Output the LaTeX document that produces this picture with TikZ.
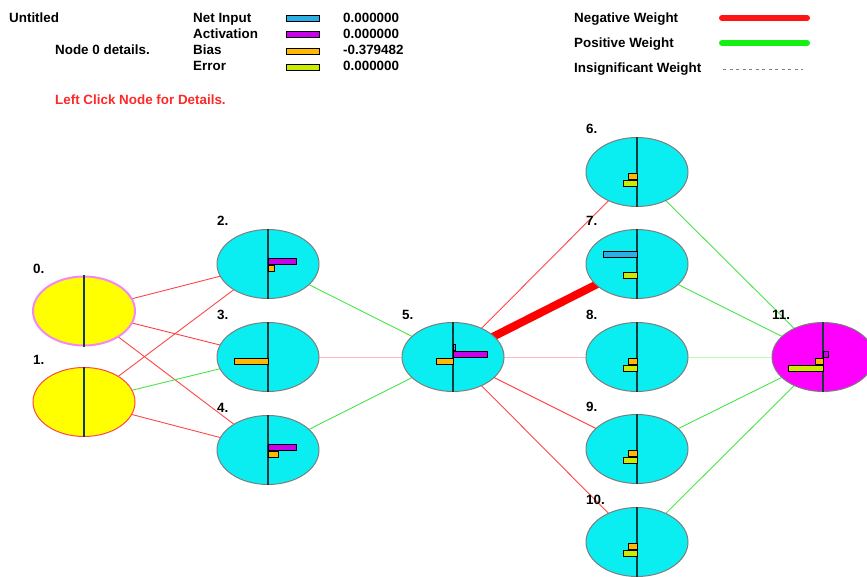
\documentclass[tikz,border=0pt]{standalone}
\usepackage{fontspec}
\setmainfont{Liberation Sans}
\usetikzlibrary{shapes.geometric,backgrounds}
\definecolor{cyanfill}{RGB}{10,238,242}
\definecolor{ogray}{RGB}{125,125,125}
\definecolor{yelfill}{RGB}{255,255,0}
\definecolor{magfill}{RGB}{255,0,255}
\definecolor{pinkline}{RGB}{245,135,245}
\definecolor{redthin}{RGB}{255,70,70}
\definecolor{greenthin}{RGB}{70,230,70}
\definecolor{palepink}{RGB}{255,185,190}
\definecolor{palegreen}{RGB}{180,255,180}
\definecolor{netc}{RGB}{45,175,230}
\definecolor{actc}{RGB}{200,0,235}
\definecolor{biasc}{RGB}{255,185,0}
\definecolor{errc}{RGB}{205,235,0}
\definecolor{legred}{RGB}{255,20,20}
\definecolor{leggreen}{RGB}{20,240,20}
\definecolor{clickred}{RGB}{255,40,40}
\definecolor{vlinec}{RGB}{20,60,60}
\newcommand\nnbar[5]{\draw[barline, fill=#5] ([shift={(#3,#2)}]#1.center) rectangle ([shift={(#4,#2+6)}]#1.center);}
\newcommand\netrow{-13}
\newcommand\actrow{-6}
\newcommand\biasrow{1}
\newcommand\errrow{8}
\begin{document}
\begin{tikzpicture}[x=1pt,y=-1pt,
  font=\fontsize{13.4}{16}\selectfont\bfseries,
  unit/.style={ellipse, draw=ogray, line width=1pt, fill=cyanfill,
    minimum width=102pt, minimum height=69pt, inner sep=0pt},
  lab/.style={anchor=base west, inner sep=0pt},
  barline/.style={draw=black, line width=0.8pt},
  vline/.style={draw=vlinec, line width=1.5pt},
  negwt/.style={draw=redthin, line width=0.9pt},
  poswt/.style={draw=greenthin, line width=0.9pt},
  negpale/.style={draw=palepink, line width=1pt},
  pospale/.style={draw=palegreen, line width=1pt},
  negbig/.style={draw=red, line width=8pt},
  swatch/.style={rectangle, draw=black, line width=1pt, minimum width=33pt,
    minimum height=6pt, inner sep=0pt}]
\useasboundingbox (0,0) rectangle (867,577);

% header texts
\node[lab] (title) at (9,23) {Untitled};
\node[lab] (det) at (55,55) {Node 0 details.};
\node[lab, text=clickred] (click) at (55,105) {Left Click Node for Details.};
\node[lab] (tn) at (193,23) {Net Input};
\node[lab] (ta) at (193,39) {Activation};
\node[lab] (tb) at (193,55) {Bias};
\node[lab] (te) at (193,71) {Error};
\node[swatch, fill=netc] (sn) at (302.5,19) {};
\node[swatch, fill=actc] (sa) at (302.5,35) {};
\node[swatch, fill=biasc] (sb) at (302.5,51.5) {};
\node[swatch, fill=errc] (se) at (302.5,68) {};
\node[lab] (vn) at (343,23) {0.000000};
\node[lab] (va) at (343,39) {0.000000};
\node[lab] (vb) at (343,55) {-0.379482};
\node[lab] (ve) at (343,71) {0.000000};

% right legend
\node[lab] (lneg) at (574,23) {Negative Weight};
\node[lab] (lpos) at (574,48) {Positive Weight};
\node[lab] (lins) at (574,73) {Insignificant Weight};
\coordinate (r1) at (722,18); \coordinate (r2) at (807,18);
\coordinate (g1) at (722,43); \coordinate (g2) at (807,43);
\coordinate (d1) at (723,69); \coordinate (d2) at (803,69);
\draw[legred, line width=6pt, line cap=round] (r1) -- (r2);
\draw[leggreen, line width=6pt, line cap=round] (g1) -- (g2);
\draw[gray, line width=0.8pt, dash pattern=on 3pt off 3.5pt] (d1) -- (d2);

% nodes
\node[unit, fill=yelfill, draw=pinkline, line width=2pt] (n0) at (84,311) {};
\node[unit, fill=yelfill, draw=redthin] (n1) at (84,402) {};
\node[unit] (n2) at (268,264) {};
\node[unit] (n3) at (268,357) {};
\node[unit] (n4) at (268,450) {};
\node[unit] (n5) at (453,357) {};
\node[unit] (n6) at (637,172) {};
\node[unit] (n7) at (637,264) {};
\node[unit] (n8) at (637,357) {};
\node[unit] (n9) at (637,449) {};
\node[unit] (n10) at (637,542) {};
\node[unit, fill=magfill] (n11) at (823,357) {};

% labels
\foreach \i in {0,...,11}{
  \node[lab] (l\i) at ([shift={(-51,-38)}]n\i.center) {\i.};
}

% vertical lines
\foreach \i in {0,...,11}{
  \draw[vline] (n\i.north) -- (n\i.south);
}

% bars
\nnbar{n2}{\actrow}{0}{28}{actc}
\nnbar{n2}{\biasrow}{0}{6}{biasc}
\nnbar{n3}{\biasrow}{-34}{0}{biasc}
\nnbar{n4}{\actrow}{0}{28}{actc}
\nnbar{n4}{\biasrow}{0}{10}{biasc}
\nnbar{n5}{\netrow}{0}{2}{netc}
\nnbar{n5}{\actrow}{0}{34}{actc}
\nnbar{n5}{\biasrow}{-17}{0}{biasc}
\nnbar{n6}{\biasrow}{-9}{0}{biasc}
\nnbar{n6}{\errrow}{-14}{0}{errc}
\nnbar{n7}{\netrow}{-34}{0}{netc}
\nnbar{n7}{\errrow}{-14}{0}{errc}
\nnbar{n8}{\biasrow}{-9}{0}{biasc}
\nnbar{n8}{\errrow}{-14}{0}{errc}
\nnbar{n9}{\biasrow}{-9}{0}{biasc}
\nnbar{n9}{\errrow}{-14}{0}{errc}
\nnbar{n10}{\biasrow}{-9}{0}{biasc}
\nnbar{n10}{\errrow}{-14}{0}{errc}
\nnbar{n11}{\actrow}{0}{5}{actc}
\nnbar{n11}{\biasrow}{-8}{0}{biasc}
\nnbar{n11}{\errrow}{-35}{0}{errc}

% connectors
\begin{scope}[on background layer]
\draw[negwt] (n0.center) -- (n2.center);
\draw[negwt] (n0.center) -- (n3.center);
\draw[negwt] (n0.center) -- (n4.center);
\draw[negwt] (n1.center) -- (n2.center);
\draw[poswt] (n1.center) -- (n3.center);
\draw[negwt] (n1.center) -- (n4.center);
\draw[poswt] (n2.center) -- (n5.center);
\draw[negpale] (n3.center) -- (n5.center);
\draw[poswt] (n4.center) -- (n5.center);
\draw[negwt] (n5.center) -- (n6.center);
\draw[negbig] (n5.center) -- (n7.center);
\draw[negpale] (n5.center) -- (n8.center);
\draw[negwt] (n5.center) -- (n9.center);
\draw[negwt] (n5.center) -- (n10.center);
\draw[poswt] (n6.center) -- (n11.center);
\draw[poswt] (n7.center) -- (n11.center);
\draw[pospale] (n8.center) -- (n11.center);
\draw[poswt] (n9.center) -- (n11.center);
\draw[poswt] (n10.center) -- (n11.center);
\end{scope}
\end{tikzpicture}
\end{document}
